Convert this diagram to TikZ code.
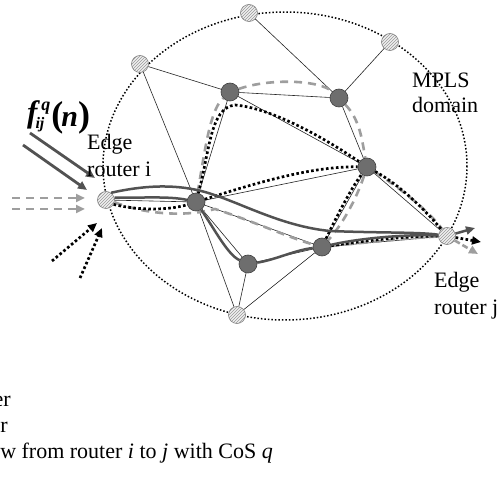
\documentclass[tikz,border=0pt]{standalone}
\usepackage{fontspec}
\setmainfont{Liberation Serif}
\usetikzlibrary{arrows.meta,patterns}
\begin{document}
\begin{tikzpicture}[x=1pt,y=-1pt,
  thinedge/.style={black!85, line width=0.6pt},
  router/.style={circle, minimum size=18pt, inner sep=0pt, fill=black!57, draw=black!75, line width=0.6pt},
  edger/.style={circle, minimum size=17pt, inner sep=0pt, draw=black!50, line width=0.6pt, preaction={fill=black!6}, pattern=north east lines, pattern color=black!40},
  solidflow/.style={black!68, line width=2.5pt},
  dashflow/.style={black!38, line width=2.6pt, dash pattern=on 8pt off 6pt},
  dotflow/.style={black, line width=2.7pt, dash pattern=on 2.6pt off 2.4pt},
  domainline/.style={black, line width=1.5pt, dash pattern=on 1.5pt off 2pt},
  lbl/.style={inner sep=0pt, font=\fontsize{22}{22}\selectfont, anchor=base west},
  tip/.style={-{Triangle[length=9pt,width=8pt]}},
]
\useasboundingbox (0,0) rectangle (499,481);
\fill[white] (0,0) rectangle (499,481);

% MPLS domain
\draw[domainline] (285,166) ellipse [x radius=182, y radius=154];

% routers
\node[edger] (ri) at (106,200) {};
\node[edger] (rj) at (447,236) {};
\node[edger] (e1) at (140,64) {};
\node[edger] (e2) at (249,13) {};
\node[edger] (e3) at (390,42) {};
\node[edger] (eb) at (237,315) {};
\node[router] (A) at (230,92) {};
\node[router] (B) at (339,98) {};
\node[router] (C) at (367,167) {};
\node[router] (D) at (196,202) {};
\node[router] (F) at (248,264) {};
\node[router] (G) at (322,247) {};

% links
\draw[thinedge] (e1) -- (A);
\draw[thinedge] (e1) -- (D);
\draw[thinedge] (e2) -- (B);
\draw[thinedge] (e3) -- (B);
\draw[thinedge] (A) -- (B);
\draw[thinedge] (A) -- (D);
\draw[thinedge] (A) -- (C);
\draw[thinedge] (B) -- (C);
\draw[thinedge] (ri) -- (D);
\draw[thinedge] (D) -- (C);
\draw[thinedge] (D) -- (G);
\draw[thinedge] (D) -- (F);
\draw[thinedge] (D) -- (eb);
\draw[thinedge] (F) -- (eb);
\draw[thinedge] (G) -- (eb);
\draw[thinedge] (F) -- (G);
\draw[thinedge] (G) -- (C);
\draw[thinedge] (G) -- (rj);
\draw[thinedge] (C) -- (rj);

% dashed flow
\draw[dashflow] (ri.-15) .. controls (150,216) and (190,216) .. (215,209) .. controls (250,220) and (290,238) .. (G);
\draw[dashflow] (G) .. controls (370,242) and (410,238) .. (rj);
\draw[dashflow] (D) .. controls (205,150) and (210,110) .. (A);
\draw[dashflow] (A) .. controls (270,78) and (320,80) .. (B);
\draw[dashflow] (B) .. controls (360,120) and (362,140) .. (C);
\draw[dashflow] (C) .. controls (356,200) and (342,225) .. (G);
\draw[dashflow] (C) .. controls (400,188) and (430,212) .. (rj);

% dotted flow
\draw[dotflow] (ri.-30) .. controls (140,211) and (170,210) .. (D);
\draw[dotflow] (D) .. controls (210,150) and (210,108) .. (235,105) .. controls (270,108) and (320,135) .. (C);
\draw[dotflow] (D) .. controls (250,185) and (310,166) .. (C);
\draw[dotflow] (C) .. controls (400,185) and (425,210) .. (rj);
\draw[dotflow] (G) .. controls (335,220) and (350,190) .. (C);
\draw[dotflow] (G) .. controls (370,240) and (410,236) .. (rj);

% solid flow
\draw[solidflow] (ri.55) .. controls (150,184) and (180,185) .. (205,192) .. controls (240,202) and (280,226) .. (330,231) .. controls (380,233) and (420,232) .. (rj);
\draw[solidflow] (ri.15) .. controls (140,198) and (170,196) .. (D);
\draw[solidflow] (D) .. controls (215,230) and (228,255) .. (F);
\draw[solidflow] (F) .. controls (275,260) and (295,250) .. (G);
\draw[solidflow] (G) .. controls (360,238) and (410,234) .. (rj);

% outgoing arrows at router j
\coordinate (sOut) at (475,228);
\coordinate (tOut) at (481,242);
\coordinate (dOut) at (478,254);
\draw[solidflow,tip] (rj) -- (sOut);
\draw[dashflow,dash pattern=on 6pt off 3pt,tip] (rj) -- (dOut);
\draw[dotflow,tip] (rj) -- (tOut);

% incoming arrows at router i
\coordinate (sa1) at (30,133);  \coordinate (sa1e) at (95,178);
\coordinate (sa2) at (23,145);  \coordinate (sa2e) at (87,190);
\coordinate (da1) at (12,198);  \coordinate (da1e) at (85,198);
\coordinate (da2) at (12,209);  \coordinate (da2e) at (85,209);
\coordinate (ta1) at (52,261);  \coordinate (ta1e) at (97,223);
\coordinate (ta2) at (80,278);  \coordinate (ta2e) at (102,228);
\draw[solidflow,line width=2.8pt,tip] (sa1) -- (sa1e);
\draw[solidflow,line width=2.8pt,tip] (sa2) -- (sa2e);
\draw[dashflow,tip] (da1) -- (da1e);
\draw[dashflow,tip] (da2) -- (da2e);
\draw[dotflow,tip] (ta1) -- (ta1e);
\draw[dotflow,tip] (ta2) -- (ta2e);

% labels
\node[inner sep=0pt, anchor=base west] (flbl) at (27,127) {\bfseries
  \raisebox{4pt}{\fontsize{31}{31}\selectfont\itshape f}\hspace{-2pt}%
  \raisebox{-2pt}{\fontsize{16}{16}\selectfont\itshape ij}\hspace{-3pt}%
  \raisebox{16pt}{\fontsize{18}{18}\selectfont\itshape q}\hspace{1pt}%
  {\fontsize{36}{36}\selectfont(}\hspace{-2pt}%
  {\fontsize{30}{30}\selectfont\itshape n}%
  {\fontsize{36}{36}\selectfont)}};
\node[lbl] (edgeI) at (87,150) {Edge};
\node[lbl] (routerI) at (87,177) {router i};
\node[lbl] (mpls) at (412,88) {MPLS};
\node[lbl] (dom) at (412,113) {domain};
\node[lbl] (edgeJ) at (434,288) {Edge};
\node[lbl] (routerJ) at (434,315) {router j};
\node[lbl, anchor=base east] (leg1) at (11,407) {er};
\node[lbl, anchor=base east] (leg2) at (8,433) {r};
\node[lbl, anchor=base east] (leg3) at (273,459) {w from router \textit{i} to \textit{j} with CoS \textit{q}};
\end{tikzpicture}
\end{document}
